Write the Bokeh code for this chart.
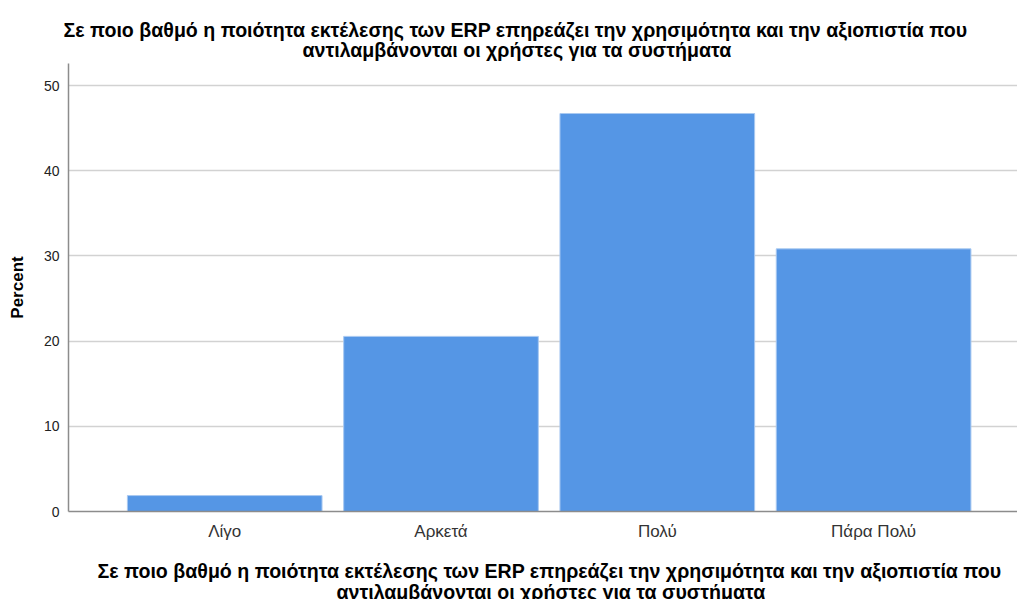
from bokeh.plotting import figure
from bokeh.models import Range1d, FixedTicker, Title, ColumnDataSource
from bokeh.embed import file_html
from bokeh.resources import INLINE

categories = ["Λίγο", "Αρκετά", "Πολύ", "Πάρα Πολύ"]
percent = [1.87, 20.56, 46.73, 30.84]
y_ticks = [0, 10, 20, 30, 40, 50]
title_line1 = "Σε ποιο βαθμό η ποιότητα εκτέλεσης των ERP επηρεάζει την χρησιμότητα και την αξιοπιστία που"
title_line2 = "αντιλαμβάνονται οι χρήστες για τα συστήματα"
y_label = "Percent"

xs = list(range(len(categories)))
src = ColumnDataSource(dict(x=xs, top=percent, cat=categories))

W, H = 1017, 599
p = figure(width=W, height=H, output_backend="svg", toolbar_location=None,
           x_range=Range1d(-0.7222, 3.6653), y_range=Range1d(0, 52.6))
p.min_border_left = 68
p.min_border_right = 0
p.min_border_top = 63
p.min_border_bottom = 87
p.outline_line_color = None
p.background_fill_color = "white"
p.border_fill_color = "white"

p.vbar(x="x", top="top", width=0.9, bottom=0, source=src,
       fill_color="#5596e5", line_color="#a9c9f1", line_width=1)

def make_title(txt, offset, standoff, fallback=0):
    t = Title(text=txt, align="left", offset=offset,
              text_font="Liberation Sans", text_font_size="19.6px",
              text_font_style="bold", text_color="black")
    try:
        t.standoff = standoff
    except ValueError:
        t.standoff = fallback
    return t

# chart title: last added is outermost
p.add_layout(make_title(title_line2, 234, 5), "above")
p.add_layout(make_title(title_line1, -5, -12), "above")

# x-axis title below the axis (a blank axis label adds the gap)
p.add_layout(make_title(title_line1, 29, 0), "below")
p.add_layout(make_title(title_line2, 268, -6), "below")

# y axis
ya = p.yaxis[0]
ya.ticker = FixedTicker(ticks=y_ticks)
ya.axis_label = y_label
ya.axis_label_text_font = "Liberation Sans"
ya.axis_label_text_font_size = "17px"
ya.axis_label_text_font_style = "bold"
ya.axis_label_text_color = "black"
ya.axis_label_standoff = 14
ya.major_label_text_font = "Liberation Sans"
ya.major_label_text_font_size = "14px"
ya.major_label_text_color = "#222222"
ya.major_label_standoff = 3
ya.major_tick_line_color = None
ya.minor_tick_line_color = None
ya.axis_line_color = "#8c8c8c"
ya.axis_line_width = 1.5

# x axis
xa = p.xaxis[0]
xa.ticker = FixedTicker(ticks=xs)
xa.major_label_overrides = {i: c for i, c in zip(xs, categories)}
xa.major_label_text_font = "Liberation Sans"
xa.major_label_text_font_size = "17px"
xa.major_label_text_color = "#333333"
xa.major_label_standoff = 4
xa.major_tick_line_color = None
xa.minor_tick_line_color = None
xa.axis_line_color = "#8c8c8c"
xa.axis_line_width = 1.5
xa.axis_label = " "
xa.axis_label_text_font_size = "2px"
xa.axis_label_standoff = 9

p.xgrid.grid_line_color = None
p.ygrid.ticker = FixedTicker(ticks=y_ticks)
p.ygrid.grid_line_color = "#d2d2d2"
p.ygrid.grid_line_width = 1.5

open("out.html", "w").write(file_html(p, INLINE))
